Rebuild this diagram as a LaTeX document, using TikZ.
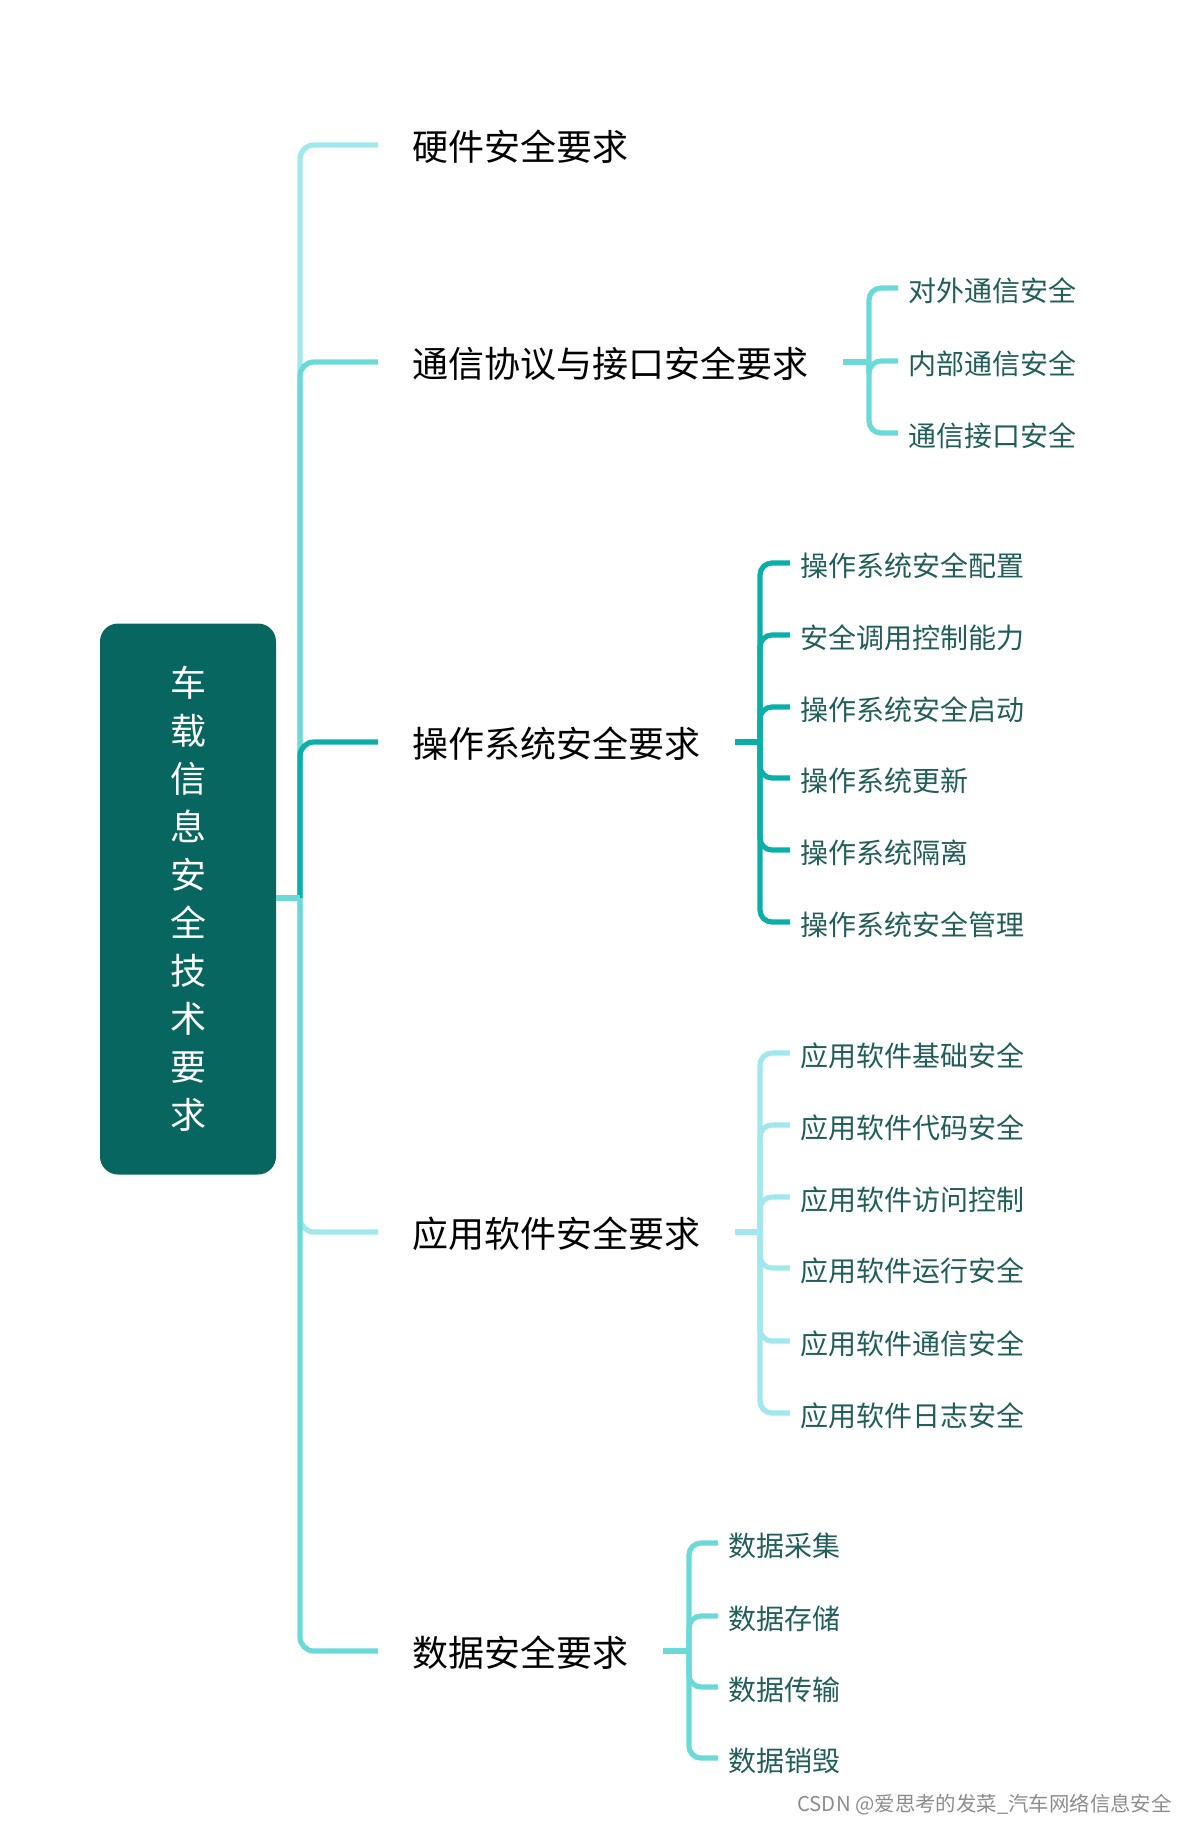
\documentclass[tikz,border=0pt]{standalone}
\usepackage{fontspec}
\setmainfont{Noto Sans CJK SC}
\usepackage{tikz}
\usetikzlibrary{positioning, calc}
\usepackage{xcolor}
\definecolor{rootc}{HTML}{07665F}
\definecolor{lightc}{HTML}{A0E8EE}
\definecolor{medc}{HTML}{6BD9D7}
\definecolor{tealc}{HTML}{0AAFA7}
\definecolor{leafc}{HTML}{215E59}

\begin{document}
\begin{tikzpicture}[
    x=0.5pt, y=-0.5pt,
    root/.style={fill=rootc, rounded corners=9pt, minimum width=88pt, minimum height=275.5pt, text=white, align=center, font={\fontsize{18}{24}\selectfont}},
    topic/.style={anchor=west, inner ysep=0pt, inner xsep=17pt, text height=16.9pt, text depth=1.1pt, font={\fontsize{18}{22}\selectfont}},
    leaf/.style={anchor=west, inner ysep=0pt, inner xsep=5pt, text height=13.6pt, text depth=0.2pt, text=leafc, font={\fontsize{14}{17}\selectfont}},
    link/.style={line width=2.6pt, rounded corners=7pt},
    sublink/.style={line width=2.6pt, rounded corners=6pt},
]
\useasboundingbox (0,0) rectangle (1188,1824);

% root and main topics
\node[root] (root) at (188,899) {车\\载\\信\\息\\安\\全\\技\\术\\要\\求};
\coordinate (j) at (300,898);
\node[topic] (hw) at (378,145) {硬件安全要求};
\node[topic] (com) at (378,362) {通信协议与接口安全要求};
\node[topic] (os) at (378,742) {操作系统安全要求};
\node[topic] (app) at (378,1232) {应用软件安全要求};
\node[topic] (data) at (378,1651) {数据安全要求};

\draw[link, lightc] (j) |- (hw.west);
\draw[link, medc] (j) |- (com.west);
\draw[link, tealc] (j) |- (os.west);
\draw[link, lightc] (j) |- (app.west);
\draw[link, medc] (j) |- (data.west);
\draw[link, medc] (root.east |- j) -- (j);

% communication
\node[leaf] (com1) at (898,288) {对外通信安全};
\node[leaf] (com2) at (898,361) {内部通信安全};
\node[leaf] (com3) at (898,433) {通信接口安全};
\coordinate (comb) at (869,362);
\draw[sublink, medc] (com.east) -- (comb);
\draw[sublink, medc] (comb) |- (com1.west);
\draw[sublink, medc] (comb) |- (com2.west);
\draw[sublink, medc] (comb) |- (com3.west);

% operating system
\node[leaf] (os1) at (790,563) {操作系统安全配置};
\node[leaf] (os2) at (790,635) {安全调用控制能力};
\node[leaf] (os3) at (790,707) {操作系统安全启动};
\node[leaf] (os4) at (790,778) {操作系统更新};
\node[leaf] (os5) at (790,850) {操作系统隔离};
\node[leaf] (os6) at (790,922) {操作系统安全管理};
\coordinate (osb) at (760,742);
\draw[sublink, tealc] (os.east) -- (osb);
\draw[sublink, tealc] (osb) |- (os1.west);
\draw[sublink, tealc] (osb) |- (os2.west);
\draw[sublink, tealc] (osb) |- (os3.west);
\draw[sublink, tealc] (osb) |- (os4.west);
\draw[sublink, tealc] (osb) |- (os5.west);
\draw[sublink, tealc] (osb) |- (os6.west);

% application software
\node[leaf] (app1) at (790,1053) {应用软件基础安全};
\node[leaf] (app2) at (790,1125) {应用软件代码安全};
\node[leaf] (app3) at (790,1197) {应用软件访问控制};
\node[leaf] (app4) at (790,1268) {应用软件运行安全};
\node[leaf] (app5) at (790,1341) {应用软件通信安全};
\node[leaf] (app6) at (790,1413) {应用软件日志安全};
\coordinate (appb) at (760,1232);
\draw[sublink, lightc] (app.east) -- (appb);
\draw[sublink, lightc] (appb) |- (app1.west);
\draw[sublink, lightc] (appb) |- (app2.west);
\draw[sublink, lightc] (appb) |- (app3.west);
\draw[sublink, lightc] (appb) |- (app4.west);
\draw[sublink, lightc] (appb) |- (app5.west);
\draw[sublink, lightc] (appb) |- (app6.west);

% data
\node[leaf] (data1) at (718,1543) {数据采集};
\node[leaf] (data2) at (718,1616) {数据存储};
\node[leaf] (data3) at (718,1687) {数据传输};
\node[leaf] (data4) at (718,1758) {数据销毁};
\coordinate (datab) at (689,1651);
\draw[sublink, medc] (data.east) -- (datab);
\draw[sublink, medc] (datab) |- (data1.west);
\draw[sublink, medc] (datab) |- (data2.west);
\draw[sublink, medc] (datab) |- (data3.west);
\draw[sublink, medc] (datab) |- (data4.west);

\node[anchor=east, inner sep=0pt, text=black!45, font={\fontsize{10.2}{12}\selectfont}] (mark) at (1172,1805) {CSDN @爱思考的发菜\_汽车网络信息安全};
\end{tikzpicture}
\end{document}
